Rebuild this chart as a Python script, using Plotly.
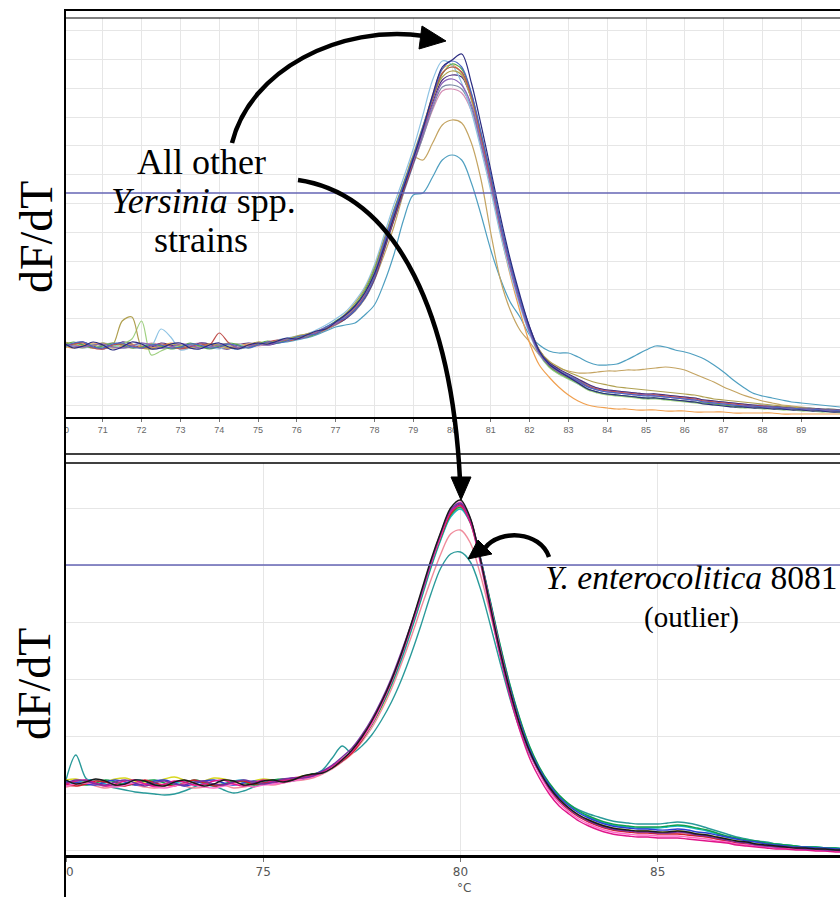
import plotly.graph_objects as go

# ---------------- DATA ----------------
TEMPS = [70.0, 70.25, 70.5, 70.75, 71.0, 71.25, 71.5, 71.75, 72.0, 72.25,
         72.5, 72.75, 73.0, 73.25, 73.5, 73.75, 74.0, 74.25, 74.5, 74.75,
         75.0, 75.25, 75.5, 75.75, 76.0, 76.25, 76.5, 76.75, 77.0, 77.25,
         77.5, 77.75, 78.0, 78.25, 78.5, 78.75, 79.0, 79.25, 79.5, 79.75,
         80.0, 80.25, 80.5, 80.75, 81.0, 81.25, 81.5, 81.75, 82.0, 82.25,
         82.5, 82.75, 83.0, 83.25, 83.5, 83.75, 84.0, 84.25, 84.5, 84.75,
         85.0, 85.25, 85.5, 85.75, 86.0, 86.25, 86.5, 86.75, 87.0, 87.25,
         87.5, 87.75, 88.0, 88.25, 88.5, 88.75, 89.0, 89.25, 89.5, 89.75,
         90.0]

TOP_TICKS = [70, 71, 72, 73, 74, 75, 76, 77, 78, 79, 80, 81, 82, 83, 84, 85, 86, 87, 88, 89, 90]
BOTTOM_TICKS = [70, 75, 80, 85, 90]

# Top panel: all other Yersinia spp. strains (relative dF/dT)
TOP_TEAL = [59, 61, 60, 58, 57, 59, 61, 60, 58, 57,
            59, 60, 58, 57, 59, 60, 59, 57, 56, 58,
            60, 61, 62, 63, 65, 67, 70, 74, 78, 80,
            82, 90, 100, 122, 150, 185, 210, 212, 228, 245,
            250, 245, 222, 190, 155, 126, 103, 88, 70, 60,
            54, 52, 52, 48, 43, 40, 40, 41, 45, 50,
            55, 59, 58, 55, 53, 50, 46, 40, 33, 25,
            18, 12, 9, 7, 5, 3, 2, 1, 0, -1,
            -2]
TOP_TAN = [60, 58, 57, 60, 62, 59, 57, 58, 60, 61,
           58, 57, 59, 61, 59, 57, 58, 60, 61, 58,
           60, 62, 63, 65, 68, 71, 74, 77, 80, 86,
           94, 106, 125, 150, 178, 212, 248, 245, 262, 280,
           285, 282, 262, 225, 172, 125, 95, 75, 63, 50,
           42, 37, 34, 32, 32, 33, 34, 34, 35, 35,
           36, 37, 38, 37, 35, 31, 27, 23, 18, 14,
           10, 7, 4, 2, 0, -1, -2, -3, -4, -4,
           -5]
TOP_PINK = [62, 60, 58, 57, 60, 62, 59, 57, 59, 62,
            60, 57, 57, 60, 62, 59, 57, 58, 61, 60,
            59, 61, 63, 66, 68, 70, 72, 77, 82, 89,
            97, 109, 129, 158, 187, 214, 241, 268, 295, 314,
            316, 312, 294, 258, 218, 174, 136, 102, 74, 52,
            40, 34, 29, 24, 19, 16, 14, 13, 12, 11,
            10, 9, 8, 7, 6, 5, 4, 3, 2, 1,
            0, -1, -1, -2, -3, -3, -4, -4, -5, -5,
            -6]
TOP_GRAY = [60, 58, 59, 61, 59, 57, 58, 60, 62, 59,
            57, 58, 60, 59, 57, 58, 61, 60, 57, 58,
            60, 62, 64, 65, 66, 69, 71, 75, 80, 86,
            94, 106, 125, 154, 184, 212, 240, 268, 297, 318,
            320, 316, 297, 260, 220, 175, 137, 103, 75, 53,
            42, 35, 30, 25, 20, 17, 15, 14, 13, 12,
            11, 11, 10, 9, 8, 7, 5, 4, 3, 2,
            1, 0, 0, -1, -2, -2, -3, -3, -4, -4,
            -5]
TOP_DKPURPLE = [57, 61, 63, 59, 56, 59, 63, 61, 57, 58,
                62, 60, 57, 58, 62, 61, 57, 56, 60, 62,
                61, 60, 62, 65, 67, 68, 72, 77, 81, 86,
                95, 107, 126, 155, 185, 214, 242, 272, 302, 325,
                330, 328, 306, 268, 226, 180, 141, 107, 78, 55,
                43, 36, 31, 26, 21, 17, 15, 14, 13, 12,
                11, 11, 10, 9, 8, 7, 5, 4, 3, 2,
                1, 0, -1, -2, -2, -3, -3, -4, -4, -5,
                -5]
TOP_ORANGE = [59, 57, 60, 62, 60, 57, 59, 61, 58, 57,
              59, 62, 60, 57, 59, 61, 58, 57, 60, 61,
              62, 61, 63, 65, 68, 70, 72, 76, 81, 88,
              97, 110, 130, 159, 189, 218, 247, 278, 310, 336,
              340, 332, 306, 265, 220, 172, 130, 94, 62, 40,
              28, 18, 10, 4, 0, -2, -3, -4, -4, -5,
              -5, -5, -6, -6, -6, -7, -7, -7, -7, -8,
              -8, -8, -8, -8, -9, -9, -9, -9, -9, -9,
              -9]
TOP_LTBLUE = [61, 59, 57, 59, 62, 60, 57, 58, 61, 59,
              76, 68, 55, 57, 60, 58, 56, 59, 61, 58,
              60, 62, 65, 67, 69, 71, 75, 80, 86, 93,
              104, 118, 140, 170, 200, 227, 256, 290, 325, 344,
              340, 322, 293, 255, 214, 170, 132, 99, 71, 50,
              38, 31, 26, 21, 16, 13, 11, 10, 9, 8,
              7, 7, 6, 5, 4, 3, 2, 1, 0, -1,
              -2, -2, -3, -3, -4, -4, -5, -5, -6, -6,
              -7]
TOP_LTGREEN = [58, 60, 62, 60, 57, 58, 61, 66, 84, 50,
               54, 58, 59, 61, 58, 57, 60, 60, 57, 58,
               61, 62, 64, 66, 67, 69, 73, 78, 83, 88,
               98, 112, 133, 162, 191, 219, 246, 277, 307, 332,
               338, 332, 305, 266, 224, 178, 139, 104, 74, 51,
               38, 31, 26, 21, 15, 12, 10, 9, 8, 7,
               6, 6, 5, 4, 3, 2, 1, 0, -1, -2,
               -3, -3, -4, -4, -5, -5, -6, -6, -7, -7,
               -8]
TOP_OLIVE = [63, 61, 58, 59, 62, 60, 84, 88, 58, 56,
             59, 61, 59, 57, 58, 61, 60, 57, 58, 60,
             63, 62, 64, 66, 69, 71, 73, 77, 83, 91,
             102, 116, 137, 166, 195, 222, 250, 279, 307, 328,
             334, 330, 306, 266, 224, 178, 139, 104, 76, 55,
             44, 38, 33, 29, 25, 22, 20, 18, 17, 16,
             15, 14, 13, 12, 11, 10, 8, 6, 5, 4,
             3, 2, 1, 0, -1, -2, -3, -4, -5, -5,
             -6]
TOP_GREEN = [60, 63, 60, 57, 59, 62, 60, 57, 58, 61,
             59, 56, 58, 62, 59, 56, 59, 62, 60, 57,
             61, 64, 62, 65, 68, 68, 71, 77, 84, 90,
             100, 114, 135, 164, 194, 221, 247, 277, 306, 331,
             341, 336, 311, 271, 228, 181, 141, 105, 75, 52,
             39, 32, 27, 22, 16, 13, 11, 10, 9, 8,
             7, 7, 6, 5, 4, 3, 2, 1, 0, -1,
             -2, -2, -3, -3, -4, -4, -5, -5, -6, -6,
             -7]
TOP_RED = [59, 61, 62, 57, 56, 60, 61, 59, 57, 59,
           61, 59, 56, 58, 61, 60, 72, 62, 57, 60,
           60, 63, 65, 64, 66, 70, 72, 76, 81, 87,
           96, 109, 127, 157, 186, 215, 243, 274, 306, 332,
           338, 333, 309, 268, 224, 178, 138, 103, 74, 52,
           40, 33, 28, 24, 19, 16, 14, 13, 12, 11,
           10, 10, 9, 8, 7, 6, 4, 3, 2, 1,
           0, -1, -1, -2, -3, -3, -4, -4, -5, -5,
           -6]
TOP_PURPLE = [61, 59, 58, 60, 61, 58, 57, 59, 62, 60,
              57, 58, 61, 60, 57, 58, 60, 61, 57, 58,
              62, 60, 63, 66, 66, 68, 73, 78, 81, 89,
              98, 111, 132, 163, 193, 219, 244, 272, 300, 322,
              326, 320, 300, 262, 221, 176, 137, 102, 73, 51,
              40, 33, 28, 23, 18, 15, 13, 12, 11, 10,
              10, 9, 8, 7, 6, 5, 3, 2, 1, 0,
              -1, -2, -2, -3, -3, -4, -4, -5, -5, -6,
              -6]
TOP_BLUE = [58, 62, 63, 58, 57, 61, 62, 58, 57, 60,
            60, 57, 58, 61, 60, 57, 58, 61, 59, 57,
            60, 63, 62, 64, 68, 70, 71, 78, 83, 87,
            95, 108, 128, 161, 192, 220, 248, 278, 308, 336,
            344, 338, 312, 272, 230, 182, 142, 106, 76, 53,
            41, 34, 29, 24, 18, 15, 13, 12, 11, 10,
            9, 9, 8, 7, 6, 5, 3, 2, 1, 0,
            -1, -1, -2, -2, -3, -3, -4, -4, -5, -5,
            -6]
TOP_NAVY = [62, 57, 59, 63, 60, 55, 58, 63, 61, 56,
            57, 61, 62, 57, 56, 60, 62, 58, 56, 60,
            62, 61, 64, 67, 66, 70, 74, 76, 83, 90,
            99, 112, 131, 158, 188, 217, 246, 276, 310, 338,
            345, 351, 322, 280, 235, 188, 146, 110, 78, 54,
            41, 34, 28, 22, 16, 13, 11, 10, 9, 8,
            7, 7, 6, 5, 4, 3, 1, 0, -1, -2,
            -2, -3, -3, -4, -4, -5, -5, -6, -6, -7,
            -7]

# Bottom panel: Y. enterocolitica strains (relative dF/dT)
BOT_TEAL = [70, 95, 72, 66, 64, 62, 60, 58, 57, 56,
            55, 56, 59, 63, 66, 64, 60, 57, 59, 63,
            66, 68, 69, 71, 72, 75, 80, 92, 104, 97,
            104, 115, 130, 148, 170, 196, 225, 256, 282, 296,
            298, 288, 262, 226, 188, 152, 121, 96, 78, 64,
            54, 46, 40, 36, 33, 30, 28, 27, 26, 26,
            26, 27, 28, 27, 25, 22, 19, 16, 13, 11,
            9, 8, 6, 5, 4, 3, 3, 2, 2, 1,
            1]
BOT_SALMON = [63, 65, 67, 64, 62, 64, 66, 65, 63, 62,
              64, 66, 64, 62, 63, 66, 65, 62, 63, 65,
              66, 65, 67, 69, 70, 72, 76, 81, 88, 96,
              108, 122, 140, 161, 186, 213, 242, 270, 296, 316,
              320, 307, 276, 237, 196, 158, 125, 98, 77, 61,
              49, 41, 34, 29, 25, 22, 20, 19, 18, 18,
              17, 17, 17, 16, 15, 13, 11, 9, 7, 6,
              5, 4, 3, 2, 2, 1, 1, 0, 0, -1,
              -1]
BOT_YELLOW = [70, 71, 68, 66, 68, 71, 72, 69, 67, 68,
              71, 73, 70, 67, 69, 72, 71, 68, 66, 69,
              71, 70, 69, 71, 74, 76, 78, 83, 90, 98,
              110, 125, 143, 165, 191, 220, 251, 283, 311, 334,
              342, 327, 290, 245, 201, 161, 127, 99, 79, 63,
              51, 42, 35, 30, 26, 23, 21, 20, 19, 19,
              18, 18, 19, 18, 16, 15, 13, 11, 9, 8,
              6, 5, 4, 4, 3, 2, 2, 1, 1, 0,
              0]
BOT_CYAN = [65, 67, 70, 70, 66, 64, 67, 70, 69, 66,
            65, 67, 69, 69, 66, 64, 66, 69, 70, 67,
            66, 69, 70, 69, 73, 76, 77, 82, 90, 99,
            112, 126, 144, 165, 190, 219, 250, 282, 310, 333,
            341, 327, 292, 249, 205, 165, 131, 103, 82, 66,
            54, 45, 38, 33, 29, 26, 24, 23, 22, 22,
            22, 23, 24, 23, 21, 19, 16, 13, 11, 10,
            8, 7, 6, 5, 4, 3, 3, 2, 2, 1,
            1]
BOT_GREEN = [69, 67, 65, 67, 70, 68, 65, 66, 69, 70,
             67, 65, 67, 70, 68, 65, 66, 69, 68, 65,
             67, 70, 71, 70, 72, 76, 78, 83, 89, 98,
             110, 125, 144, 166, 192, 221, 252, 284, 312, 335,
             343, 328, 293, 250, 206, 166, 132, 104, 83, 67,
             55, 46, 39, 34, 30, 27, 25, 24, 23, 23,
             23, 24, 25, 24, 22, 20, 17, 14, 12, 10,
             9, 7, 6, 5, 4, 3, 3, 2, 2, 1,
             1]
BOT_BLUE = [68, 68, 66, 65, 68, 70, 68, 65, 66, 69,
            70, 67, 64, 66, 69, 70, 67, 65, 67, 69,
            68, 67, 70, 72, 71, 75, 79, 83, 89, 98,
            111, 126, 145, 168, 194, 223, 254, 286, 314, 338,
            346, 330, 293, 248, 203, 163, 129, 101, 81, 65,
            53, 44, 37, 32, 28, 25, 23, 22, 21, 21,
            20, 20, 21, 20, 18, 17, 15, 13, 11, 9,
            8, 6, 5, 4, 3, 3, 2, 2, 1, 1,
            0]
BOT_RED = [66, 64, 66, 69, 68, 65, 64, 67, 70, 67,
           65, 64, 67, 70, 67, 64, 65, 68, 69, 66,
           67, 68, 70, 70, 72, 75, 78, 82, 89, 97,
           110, 126, 146, 169, 196, 225, 255, 286, 313, 336,
           345, 329, 291, 246, 201, 160, 126, 98, 77, 61,
           49, 40, 33, 28, 24, 21, 19, 18, 17, 17,
           16, 16, 16, 15, 14, 13, 11, 9, 7, 6,
           5, 4, 3, 2, 2, 1, 1, 0, 0, -1,
           -1]
BOT_PINK = [64, 66, 67, 66, 64, 63, 65, 67, 66, 63,
            62, 64, 66, 65, 63, 62, 64, 66, 65, 63,
            65, 66, 67, 69, 71, 73, 77, 83, 90, 99,
            111, 126, 146, 168, 194, 223, 254, 286, 314, 339,
            348, 331, 292, 246, 201, 160, 126, 97, 76, 59,
            47, 38, 31, 26, 22, 19, 17, 16, 15, 15,
            14, 14, 14, 13, 12, 11, 9, 8, 6, 5,
            4, 3, 2, 1, 1, 0, 0, -1, -1, -2,
            -2]
BOT_MAGENTA = [66, 69, 70, 67, 64, 66, 69, 70, 66, 64,
               66, 69, 68, 65, 66, 69, 70, 66, 64, 67,
               70, 68, 69, 72, 73, 74, 78, 84, 91, 99,
               112, 128, 147, 169, 195, 224, 255, 287, 315, 338,
               344, 327, 288, 241, 195, 154, 120, 92, 72, 56,
               44, 36, 29, 24, 20, 17, 15, 14, 13, 13,
               12, 12, 12, 11, 10, 9, 8, 7, 5, 4,
               3, 2, 1, 1, 0, 0, -1, -1, -2, -2,
               -2]
BOT_PURPLE = [67, 70, 69, 66, 65, 68, 70, 67, 64, 67,
              69, 66, 65, 68, 69, 66, 65, 68, 70, 68,
              66, 68, 71, 72, 72, 74, 79, 85, 93, 102,
              115, 131, 150, 172, 198, 226, 256, 288, 317, 340,
              347, 331, 291, 244, 198, 158, 125, 98, 78, 62,
              50, 41, 34, 29, 25, 22, 20, 19, 18, 18,
              17, 17, 18, 17, 15, 14, 12, 10, 8, 7,
              5, 4, 3, 3, 2, 1, 1, 0, 0, -1,
              -1]
BOT_BLACK = [70, 66, 68, 71, 69, 65, 66, 70, 69, 65,
             64, 68, 70, 67, 64, 66, 70, 69, 65, 66,
             69, 70, 68, 70, 74, 76, 77, 82, 90, 100,
             113, 129, 148, 170, 196, 226, 258, 290, 318, 342,
             350, 332, 292, 245, 200, 160, 126, 99, 79, 63,
             51, 42, 35, 30, 26, 23, 21, 20, 19, 19,
             18, 18, 19, 18, 16, 15, 13, 11, 9, 8,
             6, 5, 4, 3, 2, 2, 1, 1, 0, 0,
             -1]

THRESHOLD_TOP = 212
THRESHOLD_BOTTOM = 285

TOP_SERIES = [TOP_TEAL, TOP_TAN, TOP_PINK, TOP_GRAY, TOP_DKPURPLE, TOP_ORANGE,
              TOP_LTBLUE, TOP_LTGREEN, TOP_OLIVE, TOP_GREEN, TOP_RED, TOP_PURPLE,
              TOP_BLUE, TOP_NAVY]
BOT_SERIES = [BOT_TEAL, BOT_SALMON, BOT_YELLOW, BOT_CYAN, BOT_GREEN, BOT_BLUE,
              BOT_RED, BOT_PINK, BOT_MAGENTA, BOT_PURPLE, BOT_BLACK]

# ---------------- STYLE ----------------
TOP_COLORS = ["#4f9fc0", "#c4a462", "#d68fb5", "#7d8ba6", "#4b2c7f", "#f0a050",
              "#8fc4e4", "#9fd080", "#b0a050", "#5aa84a", "#c0504d", "#8a62b8",
              "#4a66c4", "#2b2b80"]
BOT_COLORS = ["#2a9a9a", "#f08c9c", "#d8d820", "#18b4c8", "#12a04a", "#2c3fd0",
              "#d01f2a", "#ff69c8", "#e0158a", "#7b2fa0", "#1a1a1a"]

W, H = 840, 897


def PX(x):
    return x / W


def PY(y):
    return 1 - y / H


def path(cmds):
    out = []
    for c in cmds:
        op = c[0]
        pts = c[1:]
        s = op
        for (x, y) in pts:
            s += " %.5f,%.5f" % (PX(x), PY(y))
        out.append(s)
    return " ".join(out)


for s in TOP_SERIES + BOT_SERIES:
    assert len(s) == len(TEMPS), len(s)

fig = go.Figure()
for vals, col in zip(TOP_SERIES, TOP_COLORS):
    fig.add_trace(go.Scatter(x=TEMPS, y=vals, mode="lines", xaxis="x", yaxis="y",
                             line=dict(color=col, width=1.2, shape="spline", smoothing=0.9),
                             showlegend=False, hoverinfo="skip"))
for vals, col in zip(BOT_SERIES, BOT_COLORS):
    fig.add_trace(go.Scatter(x=TEMPS, y=vals, mode="lines", xaxis="x2", yaxis="y2",
                             line=dict(color=col, width=1.4, shape="spline", smoothing=0.9),
                             showlegend=False, hoverinfo="skip"))

GRID = "#e6e6e6"
fig.update_layout(
    width=W, height=H, autosize=False,
    margin=dict(l=0, r=0, t=0, b=0, pad=0, autoexpand=False),
    paper_bgcolor="white", plot_bgcolor="white",
    xaxis=dict(domain=[64 / W, 1], range=[70, 90], anchor="y", automargin=False,
               tickmode="array", tickvals=TOP_TICKS, ticktext=[str(t) for t in TOP_TICKS],
               showgrid=True, gridcolor=GRID, gridwidth=1,
               ticks="outside", ticklen=3, tickcolor="#777",
               tickfont=dict(family="Liberation Sans", size=9, color="#666"),
               showline=True, linecolor="black", linewidth=2, zeroline=False, fixedrange=True),
    yaxis=dict(domain=[PY(417), PY(18)], range=[-12, 387], anchor="x", automargin=False,
               showgrid=True, gridcolor=GRID, tick0=0, dtick=28.8,
               showticklabels=False, ticks="", zeroline=False, showline=False, fixedrange=True),
    xaxis2=dict(domain=[66 / W, 1], range=[70, 89.62], anchor="y2", automargin=False,
                tickmode="array", tickvals=BOTTOM_TICKS, ticktext=[str(t) for t in BOTTOM_TICKS],
                showgrid=True, gridcolor=GRID, gridwidth=1,
                ticks="outside", ticklen=4, tickcolor="#777",
                tickfont=dict(family="DejaVu Sans", size=12, color="#555"),
                showline=True, linecolor="black", linewidth=3, zeroline=False, fixedrange=True),
    yaxis2=dict(domain=[PY(855), PY(463)], range=[-5, 387], anchor="x2", automargin=False,
                showgrid=True, gridcolor=GRID, tick0=0, dtick=57,
                showticklabels=False, ticks="", zeroline=False, showline=False, fixedrange=True),
)

shapes = []
# threshold lines
shapes.append(dict(type="line", xref="paper", yref="y", x0=PX(65), x1=1, y0=THRESHOLD_TOP, y1=THRESHOLD_TOP,
                   line=dict(color="#6464b4", width=1.5)))
shapes.append(dict(type="line", xref="paper", yref="y2", x0=PX(65), x1=1, y0=THRESHOLD_BOTTOM, y1=THRESHOLD_BOTTOM,
                   line=dict(color="#6464b4", width=1.5)))
# cover tick labels left of frame
shapes.append(dict(type="rect", xref="paper", yref="paper", x0=0, x1=PX(64.5), y0=PY(452), y1=PY(419),
                   fillcolor="white", line=dict(width=0)))
shapes.append(dict(type="rect", xref="paper", yref="paper", x0=0, x1=PX(64.5), y0=0, y1=PY(858),
                   fillcolor="white", line=dict(width=0)))
# frame lines
for yy, lw in [(10, 2), (18, 1.2), (454, 1.5), (463, 1.5)]:
    shapes.append(dict(type="line", xref="paper", yref="paper", x0=PX(65), x1=1, y0=PY(yy), y1=PY(yy),
                       line=dict(color="black", width=lw)))
shapes.append(dict(type="line", xref="paper", yref="paper", x0=PX(65), x1=PX(65), y0=0, y1=PY(9),
                   line=dict(color="black", width=2)))
# arrows
ARW = dict(color="black", width=4.5)
shapes.append(dict(type="path", xref="paper", yref="paper",
                   path=path([("M", (232, 143)), ("C", (250, 70), (340, 24), (424, 36))]), line=ARW))
shapes.append(dict(type="path", xref="paper", yref="paper",
                   path=path([("M", (446, 41)), ("L", (422, 26)), ("L", (419, 49)), ("Z",)]),
                   fillcolor="black", line=dict(color="black", width=1)))
shapes.append(dict(type="path", xref="paper", yref="paper",
                   path=path([("M", (298, 180)), ("C", (400, 195), (452, 320), (460, 480))]), line=ARW))
shapes.append(dict(type="path", xref="paper", yref="paper",
                   path=path([("M", (461, 500)), ("L", (451, 477)), ("L", (471, 477)), ("Z",)]),
                   fillcolor="black", line=dict(color="black", width=1)))
shapes.append(dict(type="path", xref="paper", yref="paper",
                   path=path([("M", (549, 557)), ("C", (540, 531), (500, 529), (485, 548))]), line=ARW))
shapes.append(dict(type="path", xref="paper", yref="paper",
                   path=path([("M", (468, 559)), ("L", (478, 540)), ("L", (492, 554)), ("Z",)]),
                   fillcolor="black", line=dict(color="black", width=1)))
fig.update_layout(shapes=shapes)

SERIF = "Liberation Serif"
ann = []
ann.append(dict(text="dF/dT", x=PX(36), y=PY(237), xref="paper", yref="paper", showarrow=False,
                textangle=-90, font=dict(family=SERIF, size=46, color="black"),
                xanchor="center", yanchor="middle"))
ann.append(dict(text="dF/dT", x=PX(34), y=PY(684), xref="paper", yref="paper", showarrow=False,
                textangle=-90, font=dict(family=SERIF, size=46, color="black"),
                xanchor="center", yanchor="middle"))
for txt, cx, cy in [("All other", 201, 162), ("<i>Yersinia</i> spp.", 203, 201), ("strains", 201, 240)]:
    ann.append(dict(text=txt, x=PX(cx), y=PY(cy), xref="paper", yref="paper", showarrow=False,
                    font=dict(family=SERIF, size=36, color="black"), xanchor="center", yanchor="middle"))
ann.append(dict(text="<i>Y. enterocolitica</i> 8081", x=PX(543), y=PY(577), xref="paper", yref="paper",
                showarrow=False, font=dict(family=SERIF, size=33.5, color="black"),
                xanchor="left", yanchor="middle"))
ann.append(dict(text="(outlier)", x=PX(691), y=PY(617), xref="paper", yref="paper",
                showarrow=False, font=dict(family=SERIF, size=29, color="black"),
                xanchor="center", yanchor="middle"))
ann.append(dict(text="°C", x=PX(464), y=PY(888), xref="paper", yref="paper", showarrow=False,
                font=dict(family="DejaVu Sans", size=12, color="#555"), xanchor="center", yanchor="middle"))
fig.update_layout(annotations=ann)

fig.write_html("out.html", config={"displayModeBar": False})
